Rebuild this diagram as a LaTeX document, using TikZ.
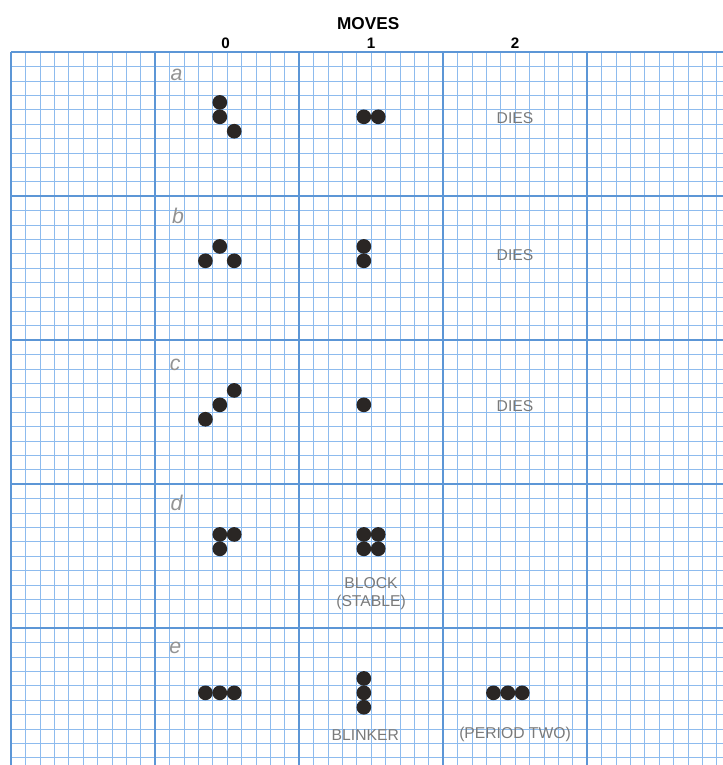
\documentclass[tikz,border=0pt]{standalone}
\usepackage{fontspec}
\setmainfont{Liberation Sans}
\usetikzlibrary{positioning}
\definecolor{gridminor}{HTML}{8DBBEE}
\definecolor{gridmajor}{HTML}{5C96D6}
\definecolor{cellink}{HTML}{2A2624}
\definecolor{notegray}{HTML}{7A7A7A}
\definecolor{rowgray}{HTML}{939393}

\begin{document}
\begin{tikzpicture}[
  x=0.5cm, y=-0.5cm,
  minor/.style={draw=gridminor, line width=0.6pt},
  major/.style={draw=gridmajor, line width=1.4pt},
  live/.style={circle, fill=cellink, inner sep=0pt, minimum size=5.1mm},
  head/.style={font=\fontsize{15}{17}\selectfont\bfseries},
  note/.style={font=\fontsize{15.5}{18}\selectfont, text=notegray, align=center},
  rowlabel/.style={font=\fontsize{21}{23}\selectfont\itshape, text=rowgray},
]
  \useasboundingbox (-0.764,-3.611) rectangle (49.44,49.51);
  \clip (-0.764,-3.611) rectangle (49.44,49.51);

  % graph paper
  \foreach \k in {1,...,49} {
    \draw[minor] (\k,0) -- (\k,50);
    \draw[minor] (0,\k) -- (50,\k);
  }
  \foreach \k in {0,10,...,50} {
    \draw[major] (\k,0) -- (\k,50);
    \draw[major] (0,\k) -- (50,\k);
  }

  % column heads
  \node[head, font=\fontsize{17}{19}\selectfont\bfseries] (moves) at (24.8,-2.0) {MOVES};
  \node[head] (m0) at (14.9,-0.6) {0};
  \node[head] (m1) at (25,-0.6) {1};
  \node[head] (m2) at (35,-0.6) {2};

  % row letters
  \node[rowlabel] (ra) at (11.5,1.6)  {a};
  \node[rowlabel] (rb) at (11.6,11.4) {b};
  \node[rowlabel] (rc) at (11.4,21.7) {c};
  \node[rowlabel] (rd) at (11.5,31.3) {d};
  \node[rowlabel] (re) at (11.4,41.4) {e};

  % live cells
  \foreach \p/\x/\y [count=\i] in {
      a0/14.5/3.5, a0/14.5/4.5, a0/15.5/5.5,
      a1/24.5/4.5, a1/25.5/4.5,
      b0/14.5/13.5, b0/13.5/14.5, b0/15.5/14.5,
      b1/24.5/13.5, b1/24.5/14.5,
      c0/15.5/23.5, c0/14.5/24.5, c0/13.5/25.5,
      c1/24.5/24.5,
      d0/14.5/33.5, d0/15.5/33.5, d0/14.5/34.5,
      d1/24.5/33.5, d1/25.5/33.5, d1/24.5/34.5, d1/25.5/34.5,
      e0/13.5/44.5, e0/14.5/44.5, e0/15.5/44.5,
      e1/24.5/43.5, e1/24.5/44.5, e1/24.5/45.5,
      e2/33.5/44.5, e2/34.5/44.5, e2/35.5/44.5}
    \node[live] (\p-\i) at (\x,\y) {};

  % outcomes
  \node[note] (adies) at (35,4.6)  {DIES};
  \node[note] (bdies) at (35,14.1) {DIES};
  \node[note] (cdies) at (35,24.6) {DIES};
  \node[note] (block) at (25,37.6) {BLOCK\\(STABLE)};
  \node[note] (blinker) at (24.6,47.4) {BLINKER};
  \node[note] (period) at (35,47.4) {(PERIOD TWO)};
\end{tikzpicture}
\end{document}
